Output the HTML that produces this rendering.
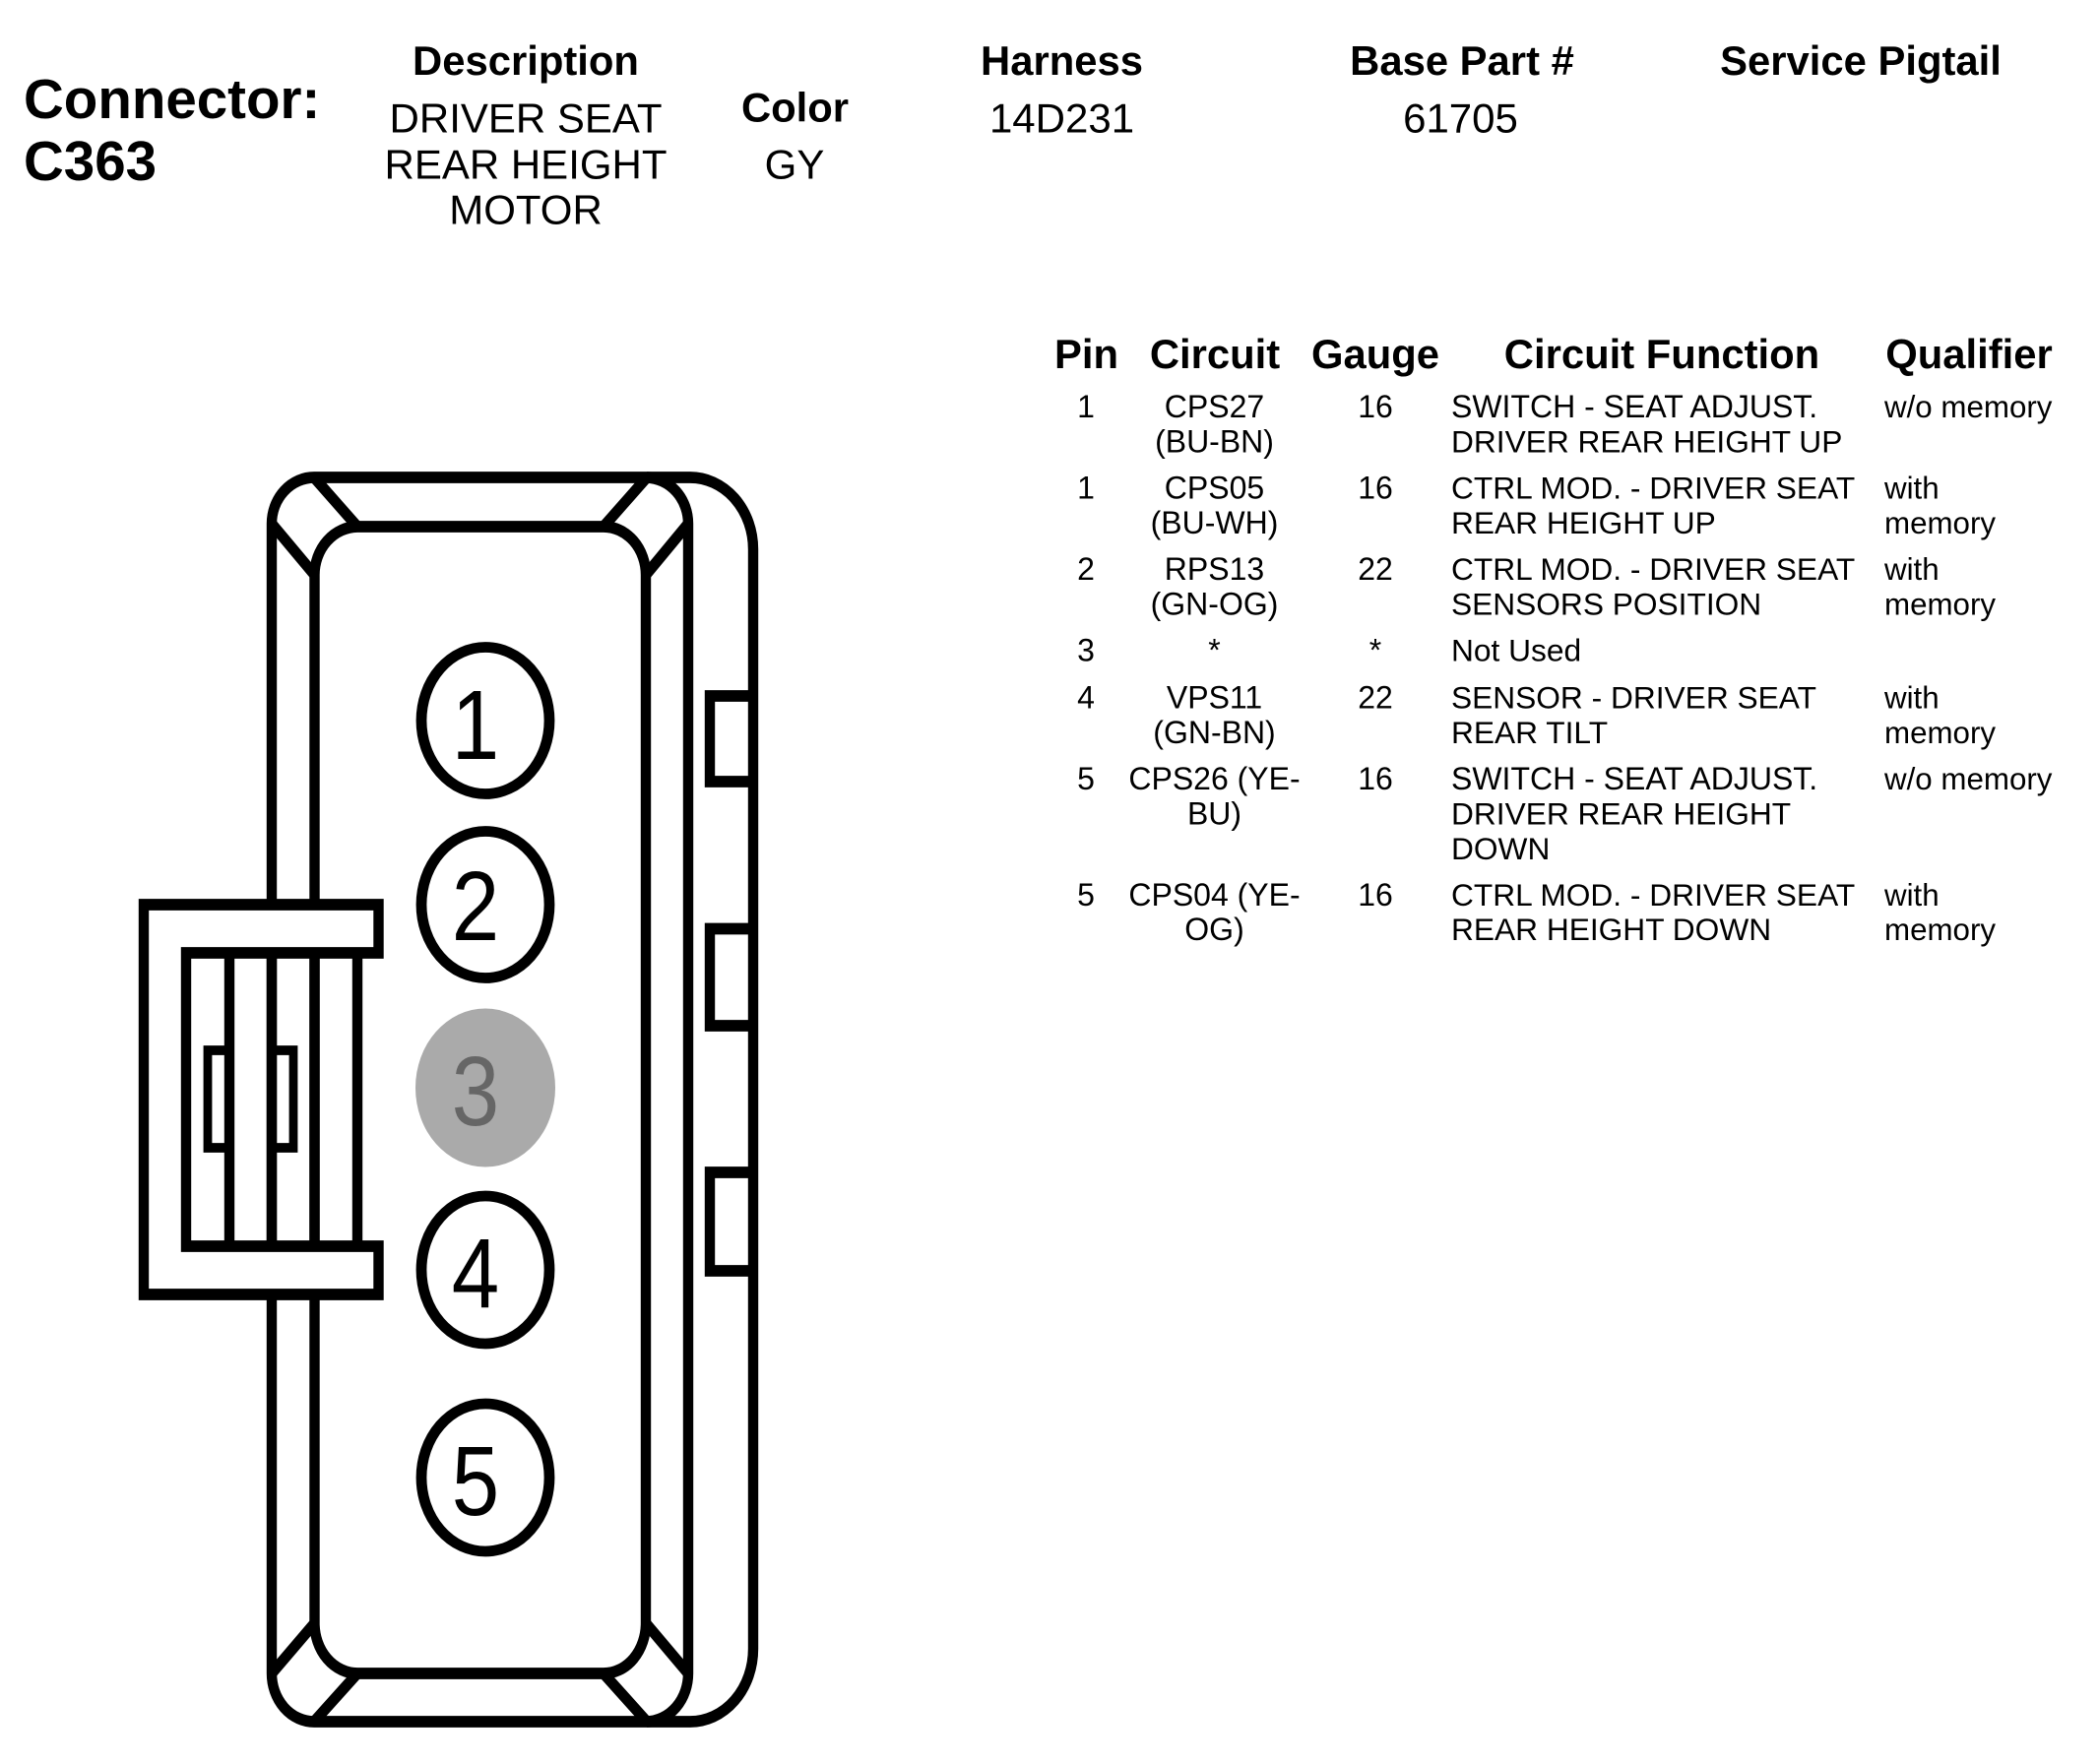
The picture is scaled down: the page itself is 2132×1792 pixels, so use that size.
<!DOCTYPE html>
<html><head><meta charset="utf-8"><style>
html,body{margin:0;padding:0;background:#fff}
svg{display:block}
text{font-family:"Liberation Sans",sans-serif;fill:#000}
.h{font-weight:bold;font-size:41.8px;text-anchor:middle}
.d{font-size:42px;text-anchor:middle}
.b{font-size:32px}
.f{font-size:31.7px}
.q{font-size:31.3px}
.m{text-anchor:middle}
.n{font-size:100px;text-anchor:middle}
</style></head><body>
<svg width="2132" height="1792" viewBox="0 0 2132 1792" xmlns="http://www.w3.org/2000/svg">
<rect width="2132" height="1792" fill="#fff"/>
<text x="24" y="120" font-size="56.500" font-weight="bold">Connector:</text>
<text x="24" y="183" font-size="56.500" font-weight="bold">C363</text>
<text class="h" x="534" y="76">Description</text>
<text class="d" x="534" y="134.500">DRIVER SEAT</text>
<text class="d" x="534" y="181.500">REAR HEIGHT</text>
<text class="d" x="534" y="227.500">MOTOR</text>
<text class="h" x="807.500" y="123.500">Color</text>
<text class="d" x="807" y="181.500">GY</text>
<text class="h" x="1078.500" y="76">Harness</text>
<text class="d" x="1078.500" y="134.500">14D231</text>
<text class="h" x="1485" y="76">Base Part #</text>
<text class="d" x="1483.500" y="134.500">61705</text>
<text class="h" x="1890" y="76">Service Pigtail</text>

<text class="h" x="1103.500" y="374">Pin</text>
<text class="h" x="1234" y="374">Circuit</text>
<text class="h" x="1397" y="374">Gauge</text>
<text class="h" x="1688" y="374">Circuit Function</text>
<text class="h" x="2000" y="374">Qualifier</text>

<text class="b m" x="1103" y="424">1</text>
<text class="b m" x="1233.500" y="424">CPS27</text><text class="b m" x="1233.500" y="459.500">(BU-BN)</text>
<text class="b m" x="1397" y="424">16</text>
<text class="b" x="1474" y="424">SWITCH - SEAT ADJUST.</text><text class="f" x="1474" y="459.500">DRIVER REAR HEIGHT UP</text>
<text class="q" x="1914" y="424">w/o memory</text>

<text class="b m" x="1103" y="506.500">1</text>
<text class="b m" x="1233.500" y="506.500">CPS05</text><text class="b m" x="1233.500" y="542">(BU-WH)</text>
<text class="b m" x="1397" y="506.500">16</text>
<text class="f" x="1474" y="506.500">CTRL MOD. - DRIVER SEAT</text><text class="f" x="1474" y="542">REAR HEIGHT UP</text>
<text class="q" x="1914" y="506.500">with</text><text class="q" x="1914" y="542">memory</text>

<text class="b m" x="1103" y="589">2</text>
<text class="b m" x="1233.500" y="589">RPS13</text><text class="b m" x="1233.500" y="624.500">(GN-OG)</text>
<text class="b m" x="1397" y="589">22</text>
<text class="f" x="1474" y="589">CTRL MOD. - DRIVER SEAT</text><text class="f" x="1474" y="624.500">SENSORS POSITION</text>
<text class="q" x="1914" y="589">with</text><text class="q" x="1914" y="624.500">memory</text>

<text class="b m" x="1103" y="671.500">3</text>
<text class="b m" x="1233.500" y="671.500">*</text>
<text class="b m" x="1397" y="671.500">*</text>
<text class="f" x="1474" y="671.500">Not Used</text>

<text class="b m" x="1103" y="719.500">4</text>
<text class="b m" x="1233.500" y="719.500">VPS11</text><text class="b m" x="1233.500" y="755">(GN-BN)</text>
<text class="b m" x="1397" y="719.500">22</text>
<text class="f" x="1474" y="719.500">SENSOR - DRIVER SEAT</text><text class="f" x="1474" y="755">REAR TILT</text>
<text class="q" x="1914" y="719.500">with</text><text class="q" x="1914" y="755">memory</text>

<text class="b m" x="1103" y="802">5</text>
<text class="b m" x="1233.500" y="802">CPS26 (YE-</text><text class="b m" x="1233.500" y="837.500">BU)</text>
<text class="b m" x="1397" y="802">16</text>
<text class="b" x="1474" y="802">SWITCH - SEAT ADJUST.</text><text class="f" x="1474" y="837.500">DRIVER REAR HEIGHT</text><text class="f" x="1474" y="873">DOWN</text>
<text class="q" x="1914" y="802">w/o memory</text>

<text class="b m" x="1103" y="920">5</text>
<text class="b m" x="1233.500" y="920">CPS04 (YE-</text><text class="b m" x="1233.500" y="955">OG)</text>
<text class="b m" x="1397" y="920">16</text>
<text class="f" x="1474" y="920">CTRL MOD. - DRIVER SEAT</text><text class="f" x="1474" y="955">REAR HEIGHT DOWN</text>
<text class="q" x="1914" y="920">with</text><text class="q" x="1914" y="955">memory</text>

<g fill="none" stroke="#000" stroke-width="10.400" transform="scale(1 1.12)">
<path d="M657 433.040H701A64 65.180 0 0 1 765 498.210V1495.540A64 66.070 0 0 1 701 1561.610H657"/>
<path d="M319 433.040H657A43 41.960 0 0 1 699 475V1517.860A43 43.750 0 0 1 657 1561.610H319A43 43.750 0 0 1 276 1517.860V475A43 41.960 0 0 1 319 433.040Z"/>
<path d="M363 477.680H613A43 43.750 0 0 1 656 521.430V1472.320A43 45.540 0 0 1 613 1517.860H363A44 45.540 0 0 1 319.500 1472.320V521.430A44 43.750 0 0 1 363 477.680Z"/>
<path d="M319 433.040L363 477.680M657 433.040L613 477.680M276 475L319.500 521.430M699 475L656 521.430M276 1517.860L319.500 1472.320M699 1517.860L656 1472.320M319 1561.610L363 1517.860M657 1561.610L613 1517.860"/>
<path d="M765 631.250H721V708.930H765M765 842.410H721V930.360H765M765 1063.390H721V1152.680H765"/>
<path fill="#fff" d="M384.500 864.290V820.540H146V1174.110H384.500V1130.360H189V864.290Z"/>
<path d="M233 864.290V1130.360M276 864.290V1130.360M319.500 864.290V1130.360M363 864.290V1130.360"/>
<path d="M233 952.680H211V1041.070H233M276 952.680H298V1041.070H276" stroke-width="8.800"/>
</g>
<g fill="none" stroke="#000">
<ellipse cx="493" cy="732" rx="65" ry="74.500" stroke-width="10.800"/>
<ellipse cx="493" cy="919" rx="65" ry="74.500" stroke-width="10.800"/>
<ellipse cx="493" cy="1105" rx="71" ry="80.500" fill="#aaa" stroke="none"/>
<ellipse cx="493" cy="1290" rx="65" ry="75" stroke-width="10.800"/>
<ellipse cx="493" cy="1501" rx="65" ry="75" stroke-width="10.800"/>
</g>
<text class="n" transform="translate(483 771) scale(.87 1)">1</text>
<text class="n" transform="translate(483 955) scale(.87 1)">2</text>
<text class="n" transform="translate(483 1143) scale(.87 1)" style="fill:#666">3</text>
<text class="n" transform="translate(483 1328) scale(.87 1)">4</text>
<text class="n" transform="translate(483 1539) scale(.87 1)">5</text>
</svg>
</body></html>
